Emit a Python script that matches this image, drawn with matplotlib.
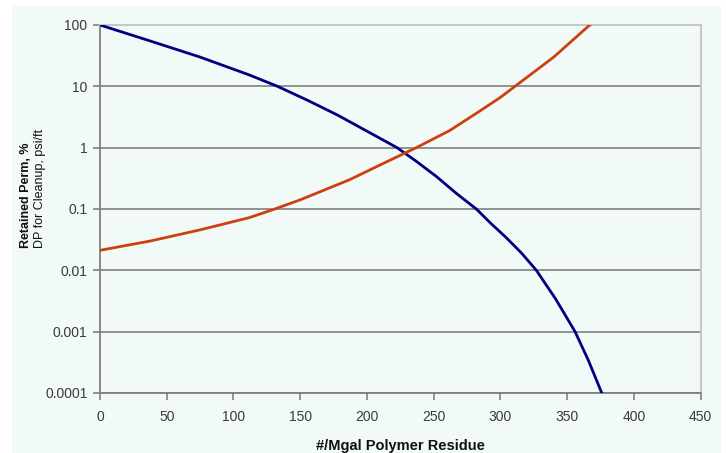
import numpy as np
import matplotlib
matplotlib.use("Agg")
import matplotlib.pyplot as plt
from matplotlib.patches import Rectangle
from matplotlib.ticker import FixedLocator, FixedFormatter, NullLocator

plt.rcParams["font.family"] = ["Liberation Sans", "DejaVu Sans"]

# retained permeability (%) vs polymer residue
perm_x = [0, 37.5, 75, 112, 133, 155, 178, 200, 222.6, 237, 252, 267, 282,
          293, 304.5, 316, 327, 341.5, 356, 366, 376]
perm_y = [100, 55, 30, 15.3, 10, 6.0, 3.4, 1.86, 1.0, 0.6, 0.34, 0.18, 0.1,
          0.058, 0.034, 0.019, 0.01, 0.0034, 0.001, 0.00034, 0.0001]

# pressure gradient needed for cleanup (psi/ft)
dp_x = [0, 37.5, 75, 112, 131, 150, 187, 212, 237, 262, 285, 300, 311,
        340, 367]
dp_y = [0.0212, 0.030, 0.0457, 0.0724, 0.1, 0.141, 0.30, 0.55, 1.0, 1.9,
        4.0, 6.6, 10, 30, 100]

x_ticks = [0, 50, 100, 150, 200, 250, 300, 350, 400, 450]
y_ticks = [0.0001, 0.001, 0.01, 0.1, 1, 10, 100]
y_labels = ["0.0001", "0.001", "0.01", "0.1", "1", "10", "100"]

W, H = 726, 453
fig = plt.figure(figsize=(W / 100, H / 100), dpi=100, facecolor="white")

# pale chart-area panel, kept behind the axes
panel = Rectangle((12 / W, 0), (721 - 12) / W, (H - 6) / H,
                  transform=fig.transFigure, facecolor="#f2faf8",
                  edgecolor="none", zorder=-10)
fig.add_artist(panel)

ax = fig.add_axes([100 / W, (H - 393) / H, 600.5 / W, 368 / H])
ax.set_facecolor("#f2faf8")

ax.plot(perm_x, perm_y, color="#000080", lw=2.0, zorder=3,
        solid_joinstyle="round")
ax.plot(dp_x, dp_y, color="#cc4010", lw=2.0, zorder=3,
        solid_joinstyle="round")

ax.set_yscale("log")
ax.set_xlim(0, 450)
ax.set_ylim(1e-4, 100)
ax.xaxis.set_major_locator(FixedLocator(x_ticks))
ax.yaxis.set_major_locator(FixedLocator(y_ticks))
ax.yaxis.set_major_formatter(FixedFormatter(y_labels))
ax.yaxis.set_minor_locator(NullLocator())

ax.grid(axis="y", color="#8a8a8a", lw=1.3, zorder=1)
for side in ("top", "right"):
    ax.spines[side].set_color("#c4c8c6")
    ax.spines[side].set_linewidth(1.5)
for side in ("left", "bottom"):
    ax.spines[side].set_color("#808080")
    ax.spines[side].set_linewidth(1.3)

ax.tick_params(axis="both", colors="#808080", labelcolor="#3a3a3a",
               labelsize=10, length=5, width=1.2)
ax.tick_params(axis="x", pad=7)
ax.tick_params(axis="y", pad=4)

ax.set_xlabel("#/Mgal Polymer Residue", fontsize=10.5, fontweight="bold",
              color="#111111", labelpad=11)

# two-line y label: bold first line, regular second line
fig.text(26 / W, 1 - 195 / H, "Retained Perm, %", rotation=90, fontsize=9,
         fontweight="bold", color="#111111", ha="center", va="center")
fig.text(40 / W, 1 - 188 / H, "DP for Cleanup, psi/ft", rotation=90,
         fontsize=9, color="#111111", ha="center", va="center")

fig.savefig("out.png", dpi=100, facecolor="white")
